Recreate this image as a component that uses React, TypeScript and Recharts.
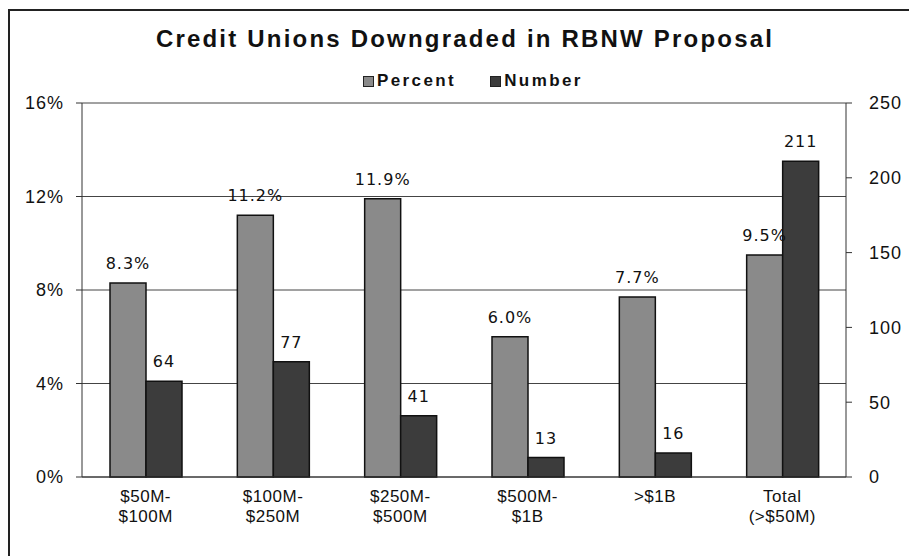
import React from "react";
import { BarChart, Bar, XAxis, YAxis, CartesianGrid, LabelList } from "recharts";

const categories = ["$50M-|$100M", "$100M-|$250M", "$250M-|$500M", "$500M-|$1B", ">$1B", "Total|(>$50M)"];
const percentValues = [8.3, 11.2, 11.9, 6.0, 7.7, 9.5];
const numberValues = [64, 77, 41, 13, 16, 211];
const percentTicks = [0, 4, 8, 12, 16];
const numberTicks = [0, 50, 100, 150, 200, 250];
const edgeTicks = [0, 1, 2, 3, 4, 5, 6];

const data = categories.map((c, i) => ({
  name: c,
  percent: percentValues[i],
  number: numberValues[i],
  edge: i,
}));

const axisFont = "Liberation Sans, Arial, sans-serif";
const labelFont = "DejaVu Sans, sans-serif";
const percentColor = "#8a8a8a";
const numberColor = "#3c3c3c";

function CategoryTick(props: any) {
  const { x, y, payload } = props;
  const lines = String(payload.value).split("|");
  return (
    <text x={x} y={y + 17} textAnchor="middle" fontFamily={axisFont} fontSize={17} fill="#111" letterSpacing={0.5}>
      {lines.map((l, i) => (
        <tspan key={i} x={x} dy={i === 0 ? 0 : 20}>
          {l}
        </tspan>
      ))}
    </text>
  );
}

function LegendBox() {
  const items = [
    { label: "Percent", color: percentColor },
    { label: "Number", color: numberColor },
  ];
  return (
    <div style={{ position: "absolute", left: 363, top: 71, display: "flex", gap: 34, fontFamily: axisFont, fontWeight: "bold", fontSize: 17, letterSpacing: 2.4, color: "#111" }}>
      {items.map((it) => (
        <span key={it.label} style={{ display: "flex", alignItems: "center" }}>
          <span style={{ display: "inline-block", width: 9, height: 9, background: it.color, border: "1px solid #222", marginRight: 3 }} />
          {it.label}
        </span>
      ))}
    </div>
  );
}

export default function App() {
  return (
    <div style={{ position: "absolute", left: 0, top: 0, width: 909, height: 556, background: "#fff" }}>
      <div style={{ position: "absolute", left: 8, top: 9, width: 901, height: 547, borderLeft: "2px solid #222", borderTop: "2px solid #222" }} />
      <div style={{ position: "absolute", top: 25, left: 0, width: 930, textAlign: "center", fontFamily: axisFont, fontWeight: "bold", fontSize: 24, letterSpacing: 2.2, color: "#111" }}>
        Credit Unions Downgraded in RBNW Proposal
      </div>
      <LegendBox />
      <BarChart
        width={909}
        height={556}
        data={data}
        barGap={0}
        barCategoryGap="22%"
        margin={{ top: 103, right: 8, bottom: 31, left: 9 }}
        style={{ position: "absolute", left: 0, top: 0 }}
      >
        <CartesianGrid yAxisId="left" xAxisId="cat" vertical={false} stroke="#444" strokeWidth={1} />
        <XAxis
          xAxisId="edges"
          dataKey="edge"
          type="number"
          domain={[0, 6]}
          ticks={edgeTicks}
          tick={false}
          tickLine={{ stroke: "#333" }}
          tickSize={6}
          axisLine={false}
          height={1}
        />
        <XAxis
          xAxisId="cat"
          dataKey="name"
          tick={<CategoryTick />}
          tickLine={false}
          axisLine={{ stroke: "#333" }}
          interval={0}
          height={47}
        />
        <YAxis
          yAxisId="left"
          domain={[0, 16]}
          ticks={percentTicks}
          tickFormatter={(v) => `${v}%`}
          tick={{ fontFamily: axisFont, fontSize: 18, fill: "#111", dx: -10, letterSpacing: 1 }}
          axisLine={{ stroke: "#333" }}
          tickLine={{ stroke: "#333" }}
          width={73}
        />
        <YAxis
          yAxisId="right"
          orientation="right"
          domain={[0, 250]}
          ticks={numberTicks}
          tick={{ fontFamily: axisFont, fontSize: 18, fill: "#111", dx: 15, letterSpacing: 1 }}
          axisLine={{ stroke: "#333" }}
          tickLine={{ stroke: "#333" }}
          width={55}
        />
        <Bar xAxisId="cat" yAxisId="left" dataKey="percent" name="Percent" fill={percentColor} stroke="#111" strokeWidth={1.5} barSize={36} isAnimationActive={false}>
          <LabelList
            dataKey="percent"
            position="top"
            offset={14}
            formatter={(v: any) => `${Number(v).toFixed(1)}%`}
            style={{ fontFamily: labelFont, fontSize: 16, fill: "#111", letterSpacing: 1 }}
          />
        </Bar>
        <Bar xAxisId="cat" yAxisId="right" dataKey="number" name="Number" fill={numberColor} stroke="#111" strokeWidth={1.5} barSize={36} isAnimationActive={false}>
          <LabelList
            dataKey="number"
            position="top"
            offset={14}
            style={{ fontFamily: labelFont, fontSize: 16, fill: "#111", letterSpacing: 1 }}
          />
        </Bar>
      </BarChart>
    </div>
  );
}
